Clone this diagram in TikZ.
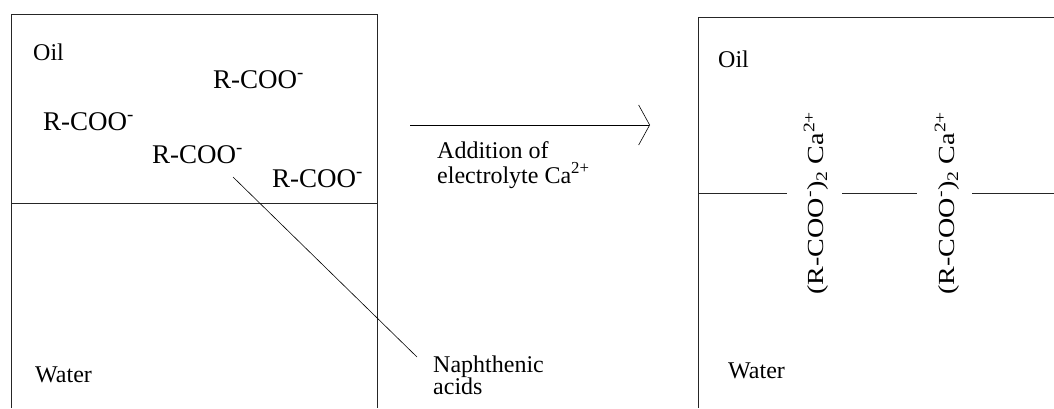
\documentclass[tikz,border=0pt]{standalone}
\usepackage{fontspec}
\setmainfont{Liberation Serif}
\usetikzlibrary{arrows.meta}
\begin{document}
\begin{tikzpicture}[x=1pt,y=-1pt,
  lbl/.style={inner sep=0pt,anchor=base west,font=\fontsize{24}{28}\selectfont},
  ion/.style={inner sep=0pt,anchor=base west,font=\fontsize{27}{31}\selectfont},
  vert/.style={inner sep=0pt,rotate=90,font=\fontsize{23}{27}\selectfont},
  wall/.style={line width=0.8pt,draw=black!85},
  thin/.style={line width=0.6pt}]
\useasboundingbox (0,0) rectangle (1054,408);
% left container
\draw[wall] (11,408) -- (11,14) -- (377,14) -- (377,408);
\draw[wall] (11,203) -- (377,203);
% right container
\draw[wall] (698,408) -- (698,17) -- (1054,17);
\coordinate (i0) at (698,193);
\coordinate (i1) at (787,193);
\coordinate (i2) at (842,193);
\coordinate (i3) at (917,193);
\coordinate (i4) at (972,193);
\coordinate (i5) at (1054,193);
\draw[wall] (i0) -- (i1) (i2) -- (i3) (i4) -- (i5);
% left texts
\node[lbl] (oilL) at (33,60) {Oil};
\node[ion] (r1) at (213,88) {R-COO\textsuperscript{-}};
\node[ion] (r2) at (43,130) {R-COO\textsuperscript{-}};
\node[ion] (r3) at (152,163) {R-COO\textsuperscript{-}};
\node[ion] (r4) at (272,187) {R-COO\textsuperscript{-}};
\node[lbl] (waterL) at (35,382) {Water};
\node[lbl] (naph) at (433,372) {Naphthenic};
\node[lbl] (acids) at (433,394) {acids};
\coordinate (p0) at (233,177);
\coordinate (p1) at (417,357);
\draw[thin] (p0) -- (p1);
% arrow
\coordinate (a0) at (410,125);
\coordinate (a1) at (650,125);
\draw[thin,-{Straight Barb[length=11pt,width=40pt]}] (a0) -- (a1);
\node[lbl] (add) at (437,158) {Addition of};
\node[lbl] (elec) at (437,183) {electrolyte Ca\textsuperscript{2+}};
% right texts
\node[lbl] (oilR) at (718,67) {Oil};
\node[lbl] (waterR) at (728,378) {Water};
\node[vert] (c1) at (816,203) {\scalebox{1.22}[1]{(R-COO\textsuperscript{-})\textsubscript{2} Ca\textsuperscript{2+}}};
\node[vert] (c2) at (947,203) {\scalebox{1.22}[1]{(R-COO\textsuperscript{-})\textsubscript{2} Ca\textsuperscript{2+}}};
\end{tikzpicture}
\end{document}
